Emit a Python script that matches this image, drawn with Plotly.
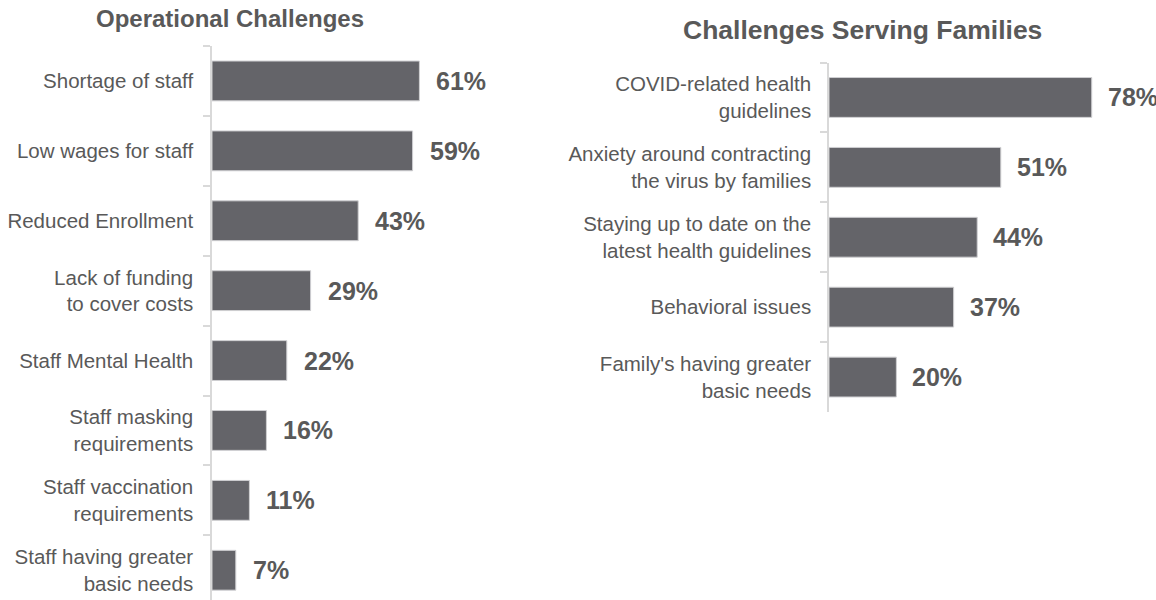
import plotly.graph_objects as go

W, H = 1156, 600

# Operational challenges (share of respondents, %)
ops_labels = [
    "Shortage of staff",
    "Low wages for staff",
    "Reduced Enrollment",
    "Lack of funding<br>to cover costs",
    "Staff Mental Health",
    "Staff masking<br>requirements",
    "Staff vaccination<br>requirements",
    "Staff having greater<br>basic needs",
]
ops_values = [61, 59, 43, 29, 22, 16, 11, 7]

# Challenges serving families (share of respondents, %)
fam_labels = [
    "COVID-related health<br>guidelines",
    "Anxiety around contracting<br>the virus by families",
    "Staying up to date on the<br>latest health guidelines",
    "Behavioral issues",
    "Family's having greater<br>basic needs",
]
fam_values = [78, 51, 44, 37, 20]

titles = ["Operational Challenges", "Challenges Serving Families"]

BAR = "#646469"
TEXT = "#595959"
AXIS = "#d9d9d9"
FONT = "Liberation Sans, Arial, sans-serif"


def px_x(p):
    return p / W


def px_y(p):
    return 1 - p / H


fig = go.Figure()

fig.add_trace(go.Bar(
    x=ops_values, y=ops_labels, orientation="h",
    marker=dict(color=BAR, line=dict(color="#cfcfd2", width=1)),
    xaxis="x", yaxis="y", hoverinfo="x+y",
))
fig.add_trace(go.Bar(
    x=fam_values, y=fam_labels, orientation="h",
    marker=dict(color=BAR, line=dict(color="#cfcfd2", width=1)),
    xaxis="x2", yaxis="y2", hoverinfo="x+y",
))

annotations = []
for lab, v in zip(ops_labels, ops_values):
    annotations.append(dict(
        x=v, y=lab, xref="x", yref="y", text=f"{v}%", showarrow=False,
        xanchor="left", yanchor="middle", xshift=15,
        font=dict(family=FONT, size=25, color=TEXT, weight="bold"),
    ))
for lab, v in zip(fam_labels, fam_values):
    annotations.append(dict(
        x=v, y=lab, xref="x2", yref="y2", text=f"{v}%", showarrow=False,
        xanchor="left", yanchor="middle", xshift=14,
        font=dict(family=FONT, size=25, color=TEXT, weight="bold"),
    ))

# Panel titles
annotations.append(dict(
    x=px_x(230), y=px_y(18), xref="paper", yref="paper", text=f"<b>{titles[0]}</b>",
    showarrow=False, xanchor="center", yanchor="middle",
    font=dict(family=FONT, size=24, color=TEXT),
))
annotations.append(dict(
    x=px_x(862), y=px_y(30), xref="paper", yref="paper", text=f"<b>{titles[1]}</b>",
    showarrow=False, xanchor="center", yanchor="middle",
    font=dict(family=FONT, size=26.5, color=TEXT),
))

yaxis_common = dict(
    type="category", tickson="boundaries", ticks="outside", ticklen=7,
    tickcolor=AXIS, tickwidth=1.5, showline=True, linecolor=AXIS, linewidth=1.5,
    showgrid=False, zeroline=False,
    tickfont=dict(family=FONT, size=20.5, color=TEXT),
)
xaxis_common = dict(visible=False, showgrid=False, zeroline=False)

fig.update_layout(
    width=W, height=H,
    margin=dict(l=0, r=0, t=0, b=0),
    paper_bgcolor="white", plot_bgcolor="white",
    showlegend=False, bargap=0.43,
    xaxis=dict(domain=[px_x(212), px_x(552)], range=[0, 100], anchor="y", **xaxis_common),
    yaxis=dict(domain=[0, px_y(46)], range=[-0.5 + 554 / 69.9, -0.5], anchor="x",
               ticklabelstandoff=13, **yaxis_common),
    xaxis2=dict(domain=[px_x(829), px_x(1149)], range=[0, 95], anchor="y2", **xaxis_common),
    yaxis2=dict(domain=[px_y(412), px_y(62.5)], range=[4.5, -0.5], anchor="x2",
                ticklabelstandoff=12, **yaxis_common),
    annotations=annotations,
)

fig.write_html("out.html")
